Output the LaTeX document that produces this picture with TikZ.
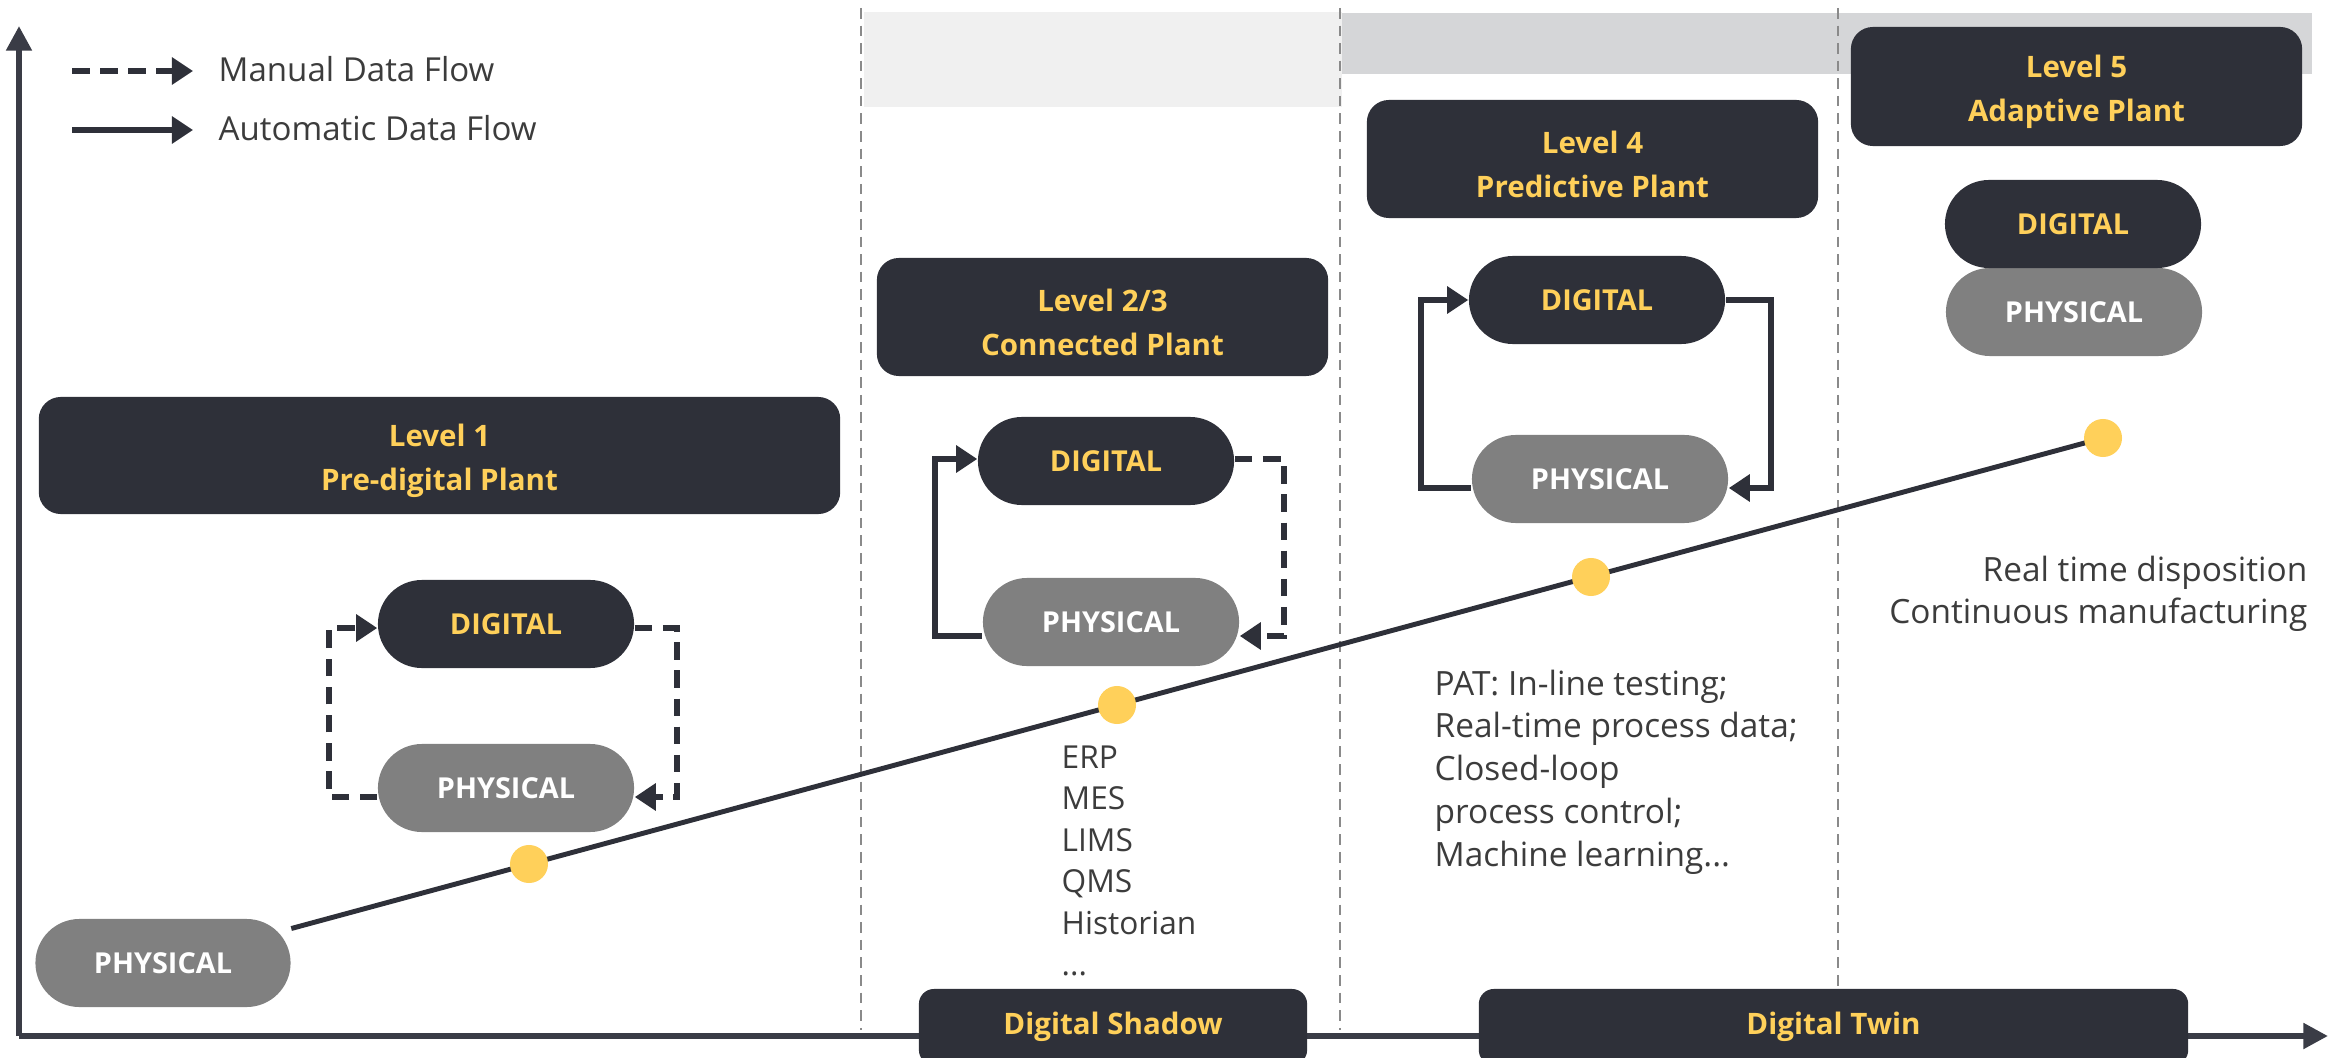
\documentclass[tikz,border=0pt]{standalone}
\usepackage{fontspec}
\setmainfont{Open Sans}
\usetikzlibrary{arrows.meta,calc}
\definecolor{navy}{HTML}{2E3039}
\definecolor{gold}{HTML}{FFD05A}
\definecolor{pillgray}{HTML}{808080}
\definecolor{bandlight}{HTML}{F0F0F0}
\definecolor{banddark}{HTML}{D5D6D8}
\definecolor{axiscol}{HTML}{3A3C46}
\definecolor{txtcol}{HTML}{3C3C3C}
\definecolor{sepcol}{HTML}{8A8A8A}
\begin{document}
\begin{tikzpicture}[x=0.01cm,y=-0.01cm,
  lvl/.style={fill=navy, rounded corners=0.22cm, text=gold, font=\bfseries\fontsize{8.4pt}{12.5pt}\selectfont, align=center, inner sep=0pt},
  digi/.style={fill=navy, rounded corners=0.44cm, minimum width=2.56cm, minimum height=0.88cm, text=gold, font=\bfseries\fontsize{8.2pt}{10pt}\selectfont, inner sep=0pt},
  phys/.style={digi, fill=pillgray, text=white},
  flow/.style={draw=navy, line width=1.6pt, -{Triangle[length=6pt,width=7.5pt]}},
  mflow/.style={flow, dash pattern=on 5pt off 3pt},
  sepline/.style={draw=sepcol, line width=0.45pt, dash pattern=on 3pt off 2pt},
  ydot/.style={circle, fill=gold, minimum size=0.38cm, inner sep=0pt},
  body/.style={text=txtcol, font=\fontsize{9pt}{12pt}\selectfont, inner sep=0pt},
  tag/.style={fill=navy, rounded corners=0.15cm, text=gold, font=\bfseries\fontsize{8.4pt}{10pt}\selectfont, minimum height=0.76cm, inner sep=0pt},
  axis/.style={draw=axiscol, line width=1.7pt, -{Triangle[length=7pt,width=7pt]}}
]
\useasboundingbox (0,0) rectangle (2343,1058);
\clip (0,0) rectangle (2343,1058);

% bands
\fill[bandlight] (864,12) rectangle (1342,107);
\fill[banddark] (1342,13) rectangle (2312,74);

% separators
\draw[sepline] (861,8) -- (861,1030);
\draw[sepline] (1340,8) -- (1340,1030);
\draw[sepline] (1838,8) -- (1838,1030);

% axes
\coordinate (origin) at (19,1036);
\coordinate (ytop) at (19,26);
\coordinate (xend) at (2328,1036);
\draw[axis] (origin) -- (ytop);
\draw[axis] (origin) -- (xend);

% legend
\coordinate (lm1) at (72,71);
\coordinate (lm2) at (193,71);
\coordinate (la1) at (72,130);
\coordinate (la2) at (193,130);
\draw[mflow] (lm1) -- (lm2);
\draw[flow] (la1) -- (la2);
\node[body, anchor=west, font=\fontsize{9.4pt}{12pt}\selectfont] (lmt) at (218,69) {Manual Data Flow};
\node[body, anchor=west, font=\fontsize{9.4pt}{12pt}\selectfont] (lat) at (218,128) {Automatic Data Flow};

% level boxes
\node[lvl, minimum width=8.01cm, minimum height=1.17cm] (L1) at (439.5,455.5) {\rule{0pt}{0.34cm}Level 1\\Pre-digital Plant};
\node[lvl, minimum width=4.51cm, minimum height=1.18cm] (L2) at (1102.5,317) {\rule{0pt}{0.34cm}Level 2/3\\Connected Plant};
\node[lvl, minimum width=4.51cm, minimum height=1.18cm] (L4) at (1592.5,159) {\rule{0pt}{0.34cm}Level 4\\Predictive Plant};
\node[lvl, minimum width=4.51cm, minimum height=1.19cm] (L5) at (2076.5,86.5) {\rule{0pt}{0.34cm}Level 5\\Adaptive Plant};

% trend line and start pill
\node[phys, minimum width=2.55cm] (p0) at (163,963) {PHYSICAL};
\coordinate (c4) at (2103,438);
\draw[draw=navy, line width=1.4pt] (p0) -- (c4);
\node[ydot] (dot1) at (529,864) {};
\node[ydot] (dot2) at (1117,705) {};
\node[ydot] (dot3) at (1591,577) {};
\node[ydot] (dot4) at (c4) {};

% level 1
\node[digi] (d1) at (506,624) {DIGITAL};
\node[phys] (p1) at (506,788) {PHYSICAL};
\draw[mflow] ([yshift=-0.04cm]d1.east) -- ++(42,0) |- ([yshift=-0.09cm]p1.east);
\draw[mflow] ([yshift=-0.09cm]p1.west) -- ++(-48,0) |- ([yshift=-0.04cm]d1.west);

% level 2/3
\node[digi] (d2) at (1106,461) {DIGITAL};
\node[phys] (p2) at (1111,622) {PHYSICAL};
\draw[flow] ([yshift=-0.14cm]p2.west) -- ++(-47,0) |- ([yshift=0.02cm]d2.west);
\draw[mflow] ([yshift=0.02cm]d2.east) -- ++(49,0) |- ([yshift=-0.14cm]p2.east);

% level 4
\node[digi] (d4) at (1597,300) {DIGITAL};
\node[phys] (p4) at (1600,479) {PHYSICAL};
\draw[flow] ([yshift=-0.09cm]p4.west) -- ++(-50,0) |- (d4.west);
\draw[flow] (d4.east) -- ++(45,0) |- ([yshift=-0.09cm]p4.east);

% level 5
\node[phys] (p5) at (2074,312) {PHYSICAL};
\node[digi] (d5) at (2073,224) {DIGITAL};

% texts
\node[body, anchor=north west, align=left, font=\fontsize{9pt}{11.8pt}\selectfont] (list2) at (1061,745) {ERP\\MES\\LIMS\\QMS\\Historian\\...};
\node[body, anchor=north west, align=left, font=\fontsize{9.5pt}{12.2pt}\selectfont] (list4) at (1434,669) {PAT: In-line testing;\\Real-time process data;\\Closed-loop\\process control;\\Machine learning...};
\node[body, anchor=north east, align=right, font=\fontsize{9.5pt}{12.2pt}\selectfont] (list5) at (2308,555) {Real time disposition\\Continuous manufacturing};

% bottom tags
\node[tag, minimum width=3.88cm] (shadow) at (1113,1027) {Digital Shadow};
\node[tag, minimum width=7.09cm] (twin) at (1833.5,1027) {Digital Twin};
\end{tikzpicture}
\end{document}
